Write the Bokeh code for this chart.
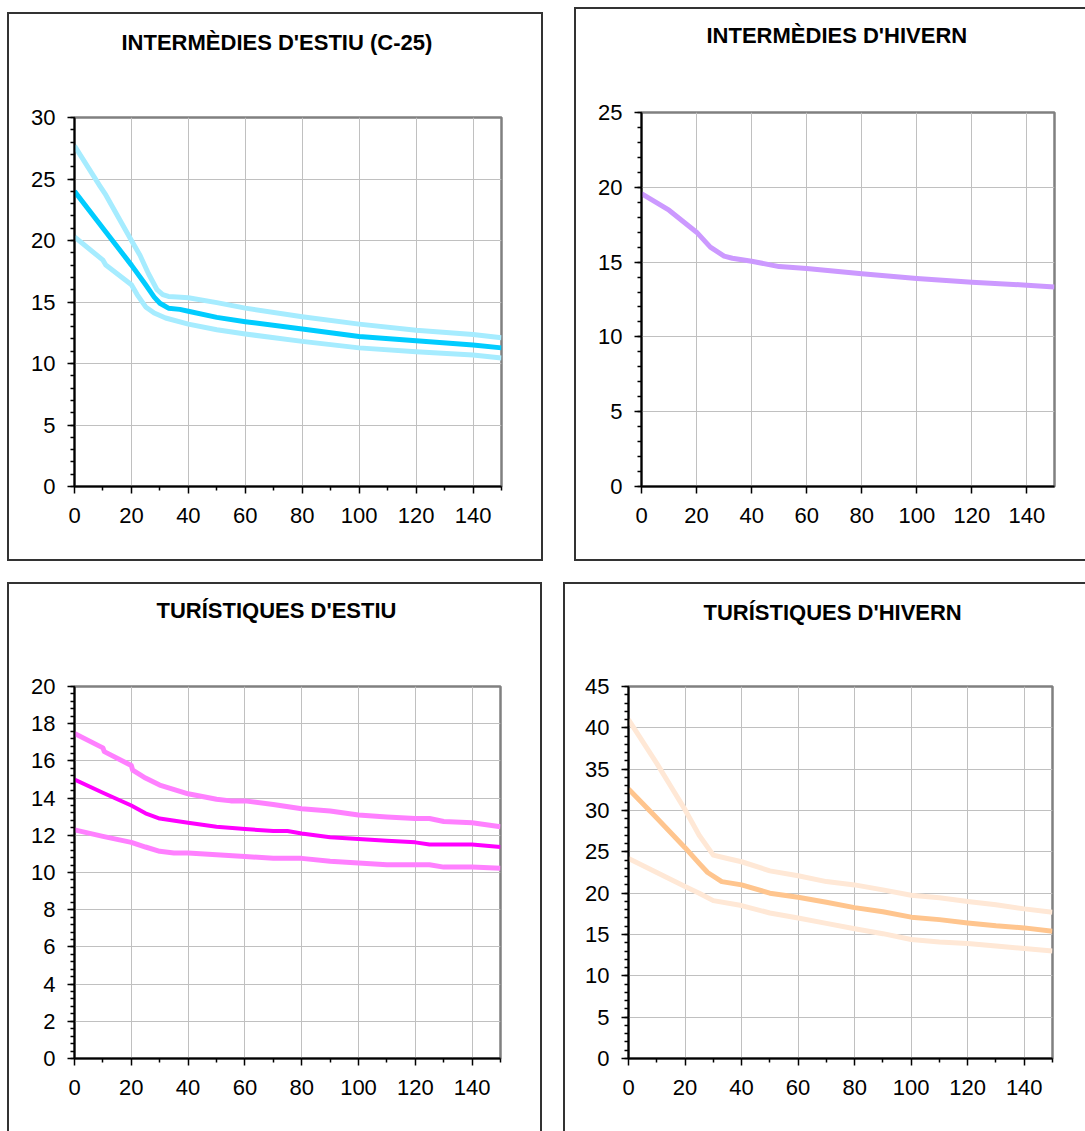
from bokeh.plotting import figure
from bokeh.models import Range1d, FixedTicker, Title
from bokeh.layouts import column, row
from bokeh.embed import file_html
from bokeh.resources import INLINE

FONT = "Liberation Sans"

# ---------------- data ----------------
X_TICKS = [0, 20, 40, 60, 80, 100, 120, 140]
X_MINOR = [10, 30, 50, 70, 90, 110, 130, 150]

# INTERMÈDIES D'ESTIU (C-25)
ie_title = "INTERMÈDIES D'ESTIU (C-25)"
ie_c_x = [0, 10, 20, 25, 28, 30, 33, 37, 40, 50, 60, 80, 100, 120, 140, 150]
ie_c_y = [24.0, 21.0, 18.0, 16.4, 15.4, 14.9, 14.5, 14.4, 14.25, 13.75, 13.4, 12.8, 12.2, 11.85, 11.5, 11.27]
ie_u_x = [0, 9, 11, 20, 23, 26, 29, 31, 33, 36, 40, 50, 60, 80, 100, 120, 140, 150]
ie_u_y = [27.7, 24.4, 23.7, 20.0, 18.8, 17.3, 16.0, 15.6, 15.45, 15.4, 15.35, 14.95, 14.5, 13.8, 13.2, 12.7, 12.35, 12.1]
ie_l_x = [0, 10, 11, 20, 22, 25, 28, 32, 40, 50, 60, 80, 100, 120, 140, 150]
ie_l_y = [20.3, 18.4, 18.0, 16.4, 15.6, 14.6, 14.1, 13.7, 13.2, 12.75, 12.4, 11.8, 11.27, 10.95, 10.7, 10.45]
ie_y_ticks = [0, 5, 10, 15, 20, 25, 30]
ie_y_minor = list(range(0, 31))

# INTERMÈDIES D'HIVERN
ih_title = "INTERMÈDIES D'HIVERN"
ih_x = [0, 10, 20, 25, 30, 33, 40, 50, 60, 80, 100, 120, 140, 150]
ih_y = [19.58, 18.47, 17.0, 16.0, 15.4, 15.26, 15.06, 14.7, 14.57, 14.22, 13.9, 13.65, 13.46, 13.33]
ih_y_ticks = [0, 5, 10, 15, 20, 25]
ih_y_minor = list(range(0, 26))

# TURÍSTIQUES D'ESTIU
te_title = "TURÍSTIQUES D'ESTIU"
te_c_x = [0, 10, 20, 25, 30, 40, 50, 60, 70, 75, 80, 90, 100, 110, 120, 125, 140, 150]
te_c_y = [15.0, 14.29, 13.6, 13.18, 12.9, 12.67, 12.46, 12.34, 12.23, 12.23, 12.1, 11.9, 11.8, 11.71, 11.62, 11.5, 11.5, 11.37]
te_u_x = [0, 10, 10.5, 20, 20.5, 25, 30, 40, 50, 55, 60, 70, 80, 90, 100, 110, 120, 125, 130, 140, 150]
te_u_y = [17.47, 16.7, 16.5, 15.75, 15.5, 15.08, 14.7, 14.23, 13.94, 13.85, 13.85, 13.66, 13.43, 13.31, 13.09, 12.99, 12.9, 12.9, 12.74, 12.67, 12.46]
te_l_x = [0, 10, 20, 25, 30, 35, 40, 50, 60, 70, 80, 90, 100, 110, 120, 125, 130, 140, 150]
te_l_y = [12.29, 11.94, 11.62, 11.37, 11.14, 11.05, 11.05, 10.95, 10.86, 10.76, 10.76, 10.61, 10.51, 10.42, 10.42, 10.42, 10.29, 10.29, 10.23]
te_y_ticks = [0, 2, 4, 6, 8, 10, 12, 14, 16, 18, 20]
te_y_minor = [round(i * 0.4, 1) for i in range(0, 51)]

# TURÍSTIQUES D'HIVERN
th_title = "TURÍSTIQUES D'HIVERN"
th_c_x = [0, 10, 20, 25, 28, 33, 40, 50, 55, 60, 70, 80, 90, 100, 110, 120, 130, 140, 150]
th_c_y = [32.6, 29.1, 25.5, 23.6, 22.5, 21.4, 21.0, 20.0, 19.75, 19.5, 18.9, 18.25, 17.75, 17.1, 16.8, 16.4, 16.05, 15.8, 15.4]
th_u_x = [0, 10, 15, 20, 25, 30, 35, 40, 50, 60, 70, 80, 90, 100, 110, 120, 130, 140, 150]
th_u_y = [41.0, 35.7, 32.9, 30.1, 27.0, 24.6, 24.2, 23.8, 22.7, 22.1, 21.4, 21.0, 20.4, 19.75, 19.45, 19.0, 18.6, 18.1, 17.7]
th_l_x = [0, 10, 20, 25, 30, 40, 50, 60, 70, 80, 90, 100, 110, 120, 130, 140, 150]
th_l_y = [24.2, 22.5, 20.8, 20.0, 19.1, 18.5, 17.6, 17.0, 16.35, 15.7, 15.1, 14.4, 14.1, 13.9, 13.6, 13.3, 13.0]
th_y_ticks = [0, 5, 10, 15, 20, 25, 30, 35, 40, 45]
th_y_minor = list(range(0, 46))


def panel(width, height, borders, margin, ymax, yticks, yminor, xminor, title, title_offset, gap):
    p = figure(width=width, height=height, output_backend="svg", toolbar_location=None,
               x_range=Range1d(0, 150), y_range=Range1d(0, ymax),
               min_border_left=borders[0], min_border_right=borders[1],
               min_border_top=borders[2], min_border_bottom=borders[3])
    p.margin = margin
    p.styles = {"outline": "2px solid #333333"}
    p.background_fill_color = "white"
    p.border_fill_color = "white"
    p.outline_line_color = "#808080"
    p.outline_line_width = 2.5
    p.xaxis.ticker = FixedTicker(ticks=X_TICKS, minor_ticks=xminor)
    p.yaxis.ticker = FixedTicker(ticks=yticks, minor_ticks=yminor)
    for ax in (p.xaxis[0], p.yaxis[0]):
        ax.axis_line_color = "black"
        ax.axis_line_width = 2
        ax.major_tick_line_color = "black"
        ax.major_tick_line_width = 1.5
        ax.minor_tick_line_color = "black"
        ax.minor_tick_line_width = 1.5
        ax.major_tick_in = 0
        ax.major_tick_out = 7
        ax.minor_tick_in = 0
        ax.minor_tick_out = 4
        ax.major_label_text_font = FONT
        ax.major_label_text_font_size = "22px"
        ax.major_label_text_color = "black"
    p.xaxis.major_label_standoff = 14
    p.yaxis.major_label_standoff = 12
    p.xgrid.grid_line_color = "#C0C0C0"
    p.ygrid.grid_line_color = "#C0C0C0"
    p.xgrid.grid_line_width = 1
    p.ygrid.grid_line_width = 1
    # real title (outermost in the "above" panel)
    p.title.text = title
    p.title.align = "left"
    p.title.offset = title_offset
    p.title.standoff = 10
    p.title.text_font = FONT
    p.title.text_font_style = "bold"
    p.title.text_font_size = "22px"
    p.title.text_color = "black"
    # white 1px spacer between the title and the plot frame
    p.add_layout(Title(text=".", text_font_size="1px", text_color="white", standoff=gap), "above")
    return p


# top-left
pA = panel(532, 545, (65, 40, 101, 72), (14, 0, 0, 9), 30, ie_y_ticks, ie_y_minor, X_MINOR,
           ie_title, 47, 55)
pA.line(ie_u_x, ie_u_y, line_color="#A6ECFF", line_width=5, line_join="round")
pA.line(ie_l_x, ie_l_y, line_color="#A6ECFF", line_width=5, line_join="round")
pA.line(ie_c_x, ie_c_y, line_color="#00CCFF", line_width=5, line_join="round")

# top-right
pB = panel(509, 550, (65, 31, 103, 73), (9, 0, 0, 35), 25, ih_y_ticks, ih_y_minor, [],
           ih_title, 65, 57)
pB.line(ih_x, ih_y, line_color="#CC99FF", line_width=5, line_join="round")

# bottom-left
pC = panel(531, 547, (65, 40, 102, 73), (25, 0, 0, 9), 20, te_y_ticks, te_y_minor, X_MINOR,
           te_title, 82, 56)
pC.line(te_u_x, te_u_y, line_color="#FF80FF", line_width=5, line_join="round")
pC.line(te_l_x, te_l_y, line_color="#FF80FF", line_width=5, line_join="round")
pC.line(te_c_x, te_c_y, line_color="#FF00FF", line_width=4, line_join="round")

# bottom-right
pD = panel(520, 547, (63, 33, 100, 73), (25, 0, 0, 25), 45, th_y_ticks, th_y_minor, X_MINOR,
           th_title, 75, 54)
pD.line(th_u_x, th_u_y, line_color="#FFE8D6", line_width=5, line_join="round")
pD.line(th_l_x, th_l_y, line_color="#FFE8D6", line_width=5, line_join="round")
pD.line(th_c_x, th_c_y, line_color="#FFC58E", line_width=5, line_join="round")

layout = column(row(pA, pB), row(pC, pD))
open("out.html", "w").write(file_html(layout, INLINE))
